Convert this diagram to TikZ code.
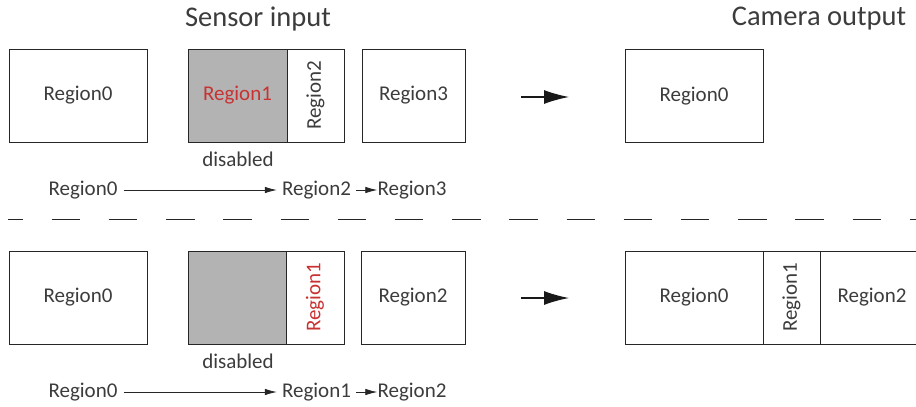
\documentclass[tikz,border=0pt]{standalone}
\usepackage{fontspec}
\setmainfont{Carlito}
\usetikzlibrary{arrows.meta,positioning,calc}

\definecolor{txtgray}{RGB}{60,60,60}
\definecolor{regred}{RGB}{200,50,50}
\definecolor{offgray}{RGB}{179,179,179}

\tikzset{
    region/.style={draw=black!85,line width=0.9pt,inner sep=0pt,minimum height=93pt,
        text=txtgray,font=\fontsize{21}{25}\selectfont},
    offregion/.style={region,fill=offgray},
    seqtext/.style={inner sep=0pt,text=txtgray,font=\fontsize{21}{25}\selectfont},
    title/.style={inner sep=0pt,text=txtgray,font=\fontsize{28.5}{33}\selectfont},
    seqarrow/.style={-{Latex[length=12pt,width=6.5pt]},line width=0.8pt,draw=black!85},
    bigarrow/.style={-{Latex[length=25pt,width=14pt]},line width=1.3pt,draw=black!90}
}

\begin{document}
\begin{tikzpicture}[x=1pt,y=-1pt]
            \useasboundingbox (0,0) rectangle (916,407);

            % Titles
            \node[title] (sensorTitle) at (258,19) {Sensor input};
            \node[title] (cameraTitle) at (819,19) {Camera output};

            % Top row: sensor regions
            \node[region,minimum width=138pt] (topIn0) at (78,95.5) {Region0};
            \node[offregion,minimum width=99pt,text=regred] (topIn1) at (237.5,95.5) {Region1};
            \node[region,rotate=90,minimum width=93pt,minimum height=57pt] (topIn2) at (315.5,95.5) {Region2};
            \node[region,minimum width=103pt] (topIn3) at (413.5,95.5) {Region3};
            \node[seqtext] (topDis) at (238,159) {disabled};

            % Top row: camera regions
            \node[region,minimum width=138pt] (topOut0) at (694,96) {Region0};

            % Top row: big arrow
            \coordinate (topArrIn) at (521,97);
            \coordinate (topArrOut) at (569,97);
            \draw[bigarrow] (topArrIn) -- (topArrOut);

            % Top row: readout order
            \node[seqtext] (topSeq0) at (83,190) {Region0};
            \node[seqtext] (topSeq2) at (316.5,190) {Region2};
            \node[seqtext] (topSeq3) at (412,190) {Region3};
            \draw[seqarrow,shorten <=6pt,shorten >=5pt] (topSeq0) -- (topSeq2);
            \draw[seqarrow,shorten <=5pt,shorten >=0pt] (topSeq2) -- (topSeq3);

            % Separator
            \draw[line width=0.9pt,draw=black!85,dash pattern=on 28.5pt off 28.7pt,dash phase=13.5pt] (8,219) -- (916,219);

            % Bottom row: sensor regions
            \node[region,minimum width=138pt] (botIn0) at (78,297.5) {Region0};
            \node[offregion,minimum width=98pt] (botIn1) at (237,297.5) {};
            \node[region,rotate=90,minimum width=93pt,minimum height=58pt,text=regred] (botIn2) at (315,297.5) {Region1};
            \node[region,minimum width=104pt] (botIn3) at (413,297.5) {Region2};
            \node[seqtext] (botDis) at (238,361) {disabled};

            % Bottom row: camera regions
            \node[region,minimum width=138pt] (botOut0) at (694,297.5) {Region0};
            \node[region,rotate=90,minimum width=93pt,minimum height=57pt] (botOut1) at (791.5,297.5) {Region1};
            \node[region,minimum width=104pt] (botOut2) at (872,297.5) {Region2};

            % Bottom row: big arrow
            \coordinate (botArrIn) at (521,298);
            \coordinate (botArrOut) at (569,298);
            \draw[bigarrow] (botArrIn) -- (botArrOut);

            % Bottom row: readout order
            \node[seqtext] (botSeq0) at (83,392) {Region0};
            \node[seqtext] (botSeq1) at (316.5,392) {Region1};
            \node[seqtext] (botSeq2) at (412,392) {Region2};
            \draw[seqarrow,shorten <=6pt,shorten >=5pt] (botSeq0) -- (botSeq1);
            \draw[seqarrow,shorten <=5pt,shorten >=0pt] (botSeq1) -- (botSeq2);

        \end{tikzpicture}
\end{document}
